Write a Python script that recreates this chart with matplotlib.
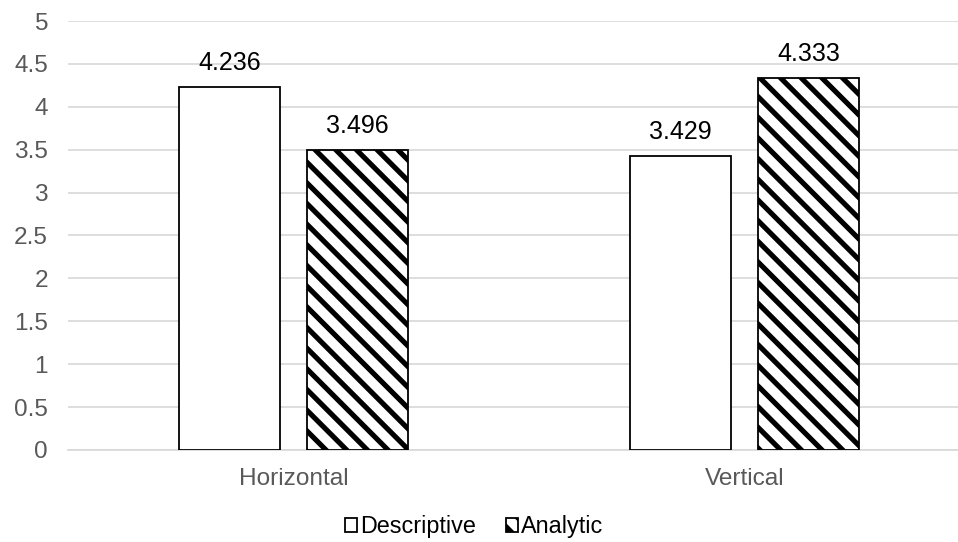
import matplotlib.pyplot as plt
import numpy as np

DPI = 124


def pt(px):
    # pixel size -> points at the figure dpi
    return px * 72 / DPI


plt.rcParams['font.family'] = ['Liberation Sans', 'DejaVu Sans']
plt.rcParams['hatch.linewidth'] = 3.0

categories = ["Horizontal", "Vertical"]
descriptive = [4.236, 3.429]
analytic = [3.496, 4.333]
yticks = [0, 0.5, 1, 1.5, 2, 2.5, 3, 3.5, 4, 4.5, 5]

fig = plt.figure(figsize=(958 / DPI, 542 / DPI), dpi=DPI)
ax = fig.add_axes([68 / 958, 92 / 542, 902 / 958, 429 / 542])

x = np.arange(len(categories))
w = 101 / 451
off = 64 / 451

b1 = ax.bar(x - off, descriptive, w, color="white", edgecolor="black",
            linewidth=pt(1.8), label="Descriptive", zorder=3)
b2 = ax.bar(x + off, analytic, w, color="white", edgecolor="black",
            hatch="\\\\", linewidth=pt(1.8), label="Analytic", zorder=3)

for bars, vals in ((b1, descriptive), (b2, analytic)):
    for r, v in zip(bars, vals):
        ax.annotate(f"{v:.3f}", (r.get_x() + r.get_width() / 2, v),
                    xytext=(0, pt(12)), textcoords="offset points",
                    ha="center", va="bottom", fontsize=pt(25), color="black")

ax.set_xlim(-0.5, 1.5)
ax.set_ylim(0, 5)
ax.set_yticks(yticks)
ax.set_yticklabels([f"{t:g}" for t in yticks])
ax.set_xticks(x)
ax.set_xticklabels(categories)
ax.yaxis.grid(True, color="#d9d9d9", linewidth=pt(1.7), zorder=0)
for s in ("top", "right", "left"):
    ax.spines[s].set_visible(False)
ax.spines["bottom"].set_color("#d9d9d9")
ax.spines["bottom"].set_linewidth(pt(1.7))
ax.tick_params(axis="both", length=0, labelsize=pt(24.4), labelcolor="#595959")
ax.tick_params(axis="y", pad=pt(20))
ax.tick_params(axis="x", pad=pt(18))

fig.legend(loc="center", bbox_to_anchor=(474 / 958, 1 - 527 / 542), ncol=2,
           frameon=False, fontsize=pt(23.4), handlelength=0.53, handleheight=0.53,
           handletextpad=0.13, columnspacing=1.28, borderpad=0)

fig.savefig("out.png", dpi=DPI)
